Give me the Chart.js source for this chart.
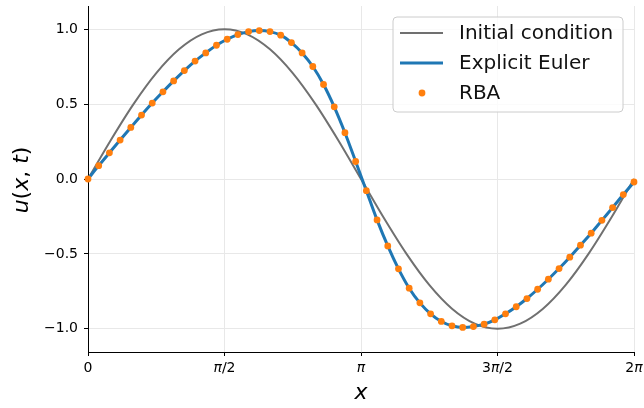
<!DOCTYPE html>
<html>
<head>
<meta charset="utf-8">
<script src="https://cdn.jsdelivr.net/npm/chart.js@4"></script>
<style>
  html, body { margin: 0; padding: 0; background: #fff; }
  #wrap { width: 644px; height: 408px; }
</style>
</head>
<body>
<div id="wrap"><canvas id="chart" width="644" height="408"></canvas></div>
<script>
/* data */
// initial condition, sampled every pi/12 from 0 to 2pi
const initU = [0, 0.259, 0.5, 0.707, 0.866, 0.966, 1.0, 0.966, 0.866, 0.707, 0.5, 0.259,
               0, -0.259, -0.5, -0.707, -0.866, -0.966, -1.0, -0.966, -0.866, -0.707, -0.5, -0.259, 0];
// explicit Euler solution and RBA prediction on the same 52-point grid (0..2pi)
const eulerU = [0, 0.089, 0.175, 0.260, 0.344, 0.427, 0.507, 0.582, 0.655, 0.724, 0.787, 0.842,
                0.893, 0.933, 0.964, 0.984, 0.991, 0.984, 0.960, 0.911, 0.842, 0.751, 0.631, 0.482,
                0.309, 0.117, -0.078, -0.273, -0.447, -0.600, -0.729, -0.827, -0.900, -0.951, -0.980,
                -0.991, -0.985, -0.969, -0.940, -0.900, -0.853, -0.798, -0.736, -0.669, -0.598, -0.522,
                -0.442, -0.362, -0.276, -0.191, -0.104, -0.020];
const rbaU = [0, 0.089, 0.175, 0.260, 0.344, 0.427, 0.507, 0.582, 0.655, 0.724, 0.787, 0.842,
              0.893, 0.933, 0.964, 0.984, 0.991, 0.984, 0.960, 0.911, 0.842, 0.751, 0.631, 0.482,
              0.309, 0.117, -0.078, -0.273, -0.447, -0.600, -0.729, -0.827, -0.900, -0.951, -0.980,
              -0.991, -0.985, -0.969, -0.940, -0.900, -0.853, -0.798, -0.736, -0.669, -0.598, -0.522,
              -0.442, -0.362, -0.276, -0.191, -0.104, -0.020];

const xTickVals = [0, Math.PI / 2, Math.PI, 3 * Math.PI / 2, 2 * Math.PI];
const xTickLabels = ['0', 'π/2', 'π', '3π/2', '2π'];
const yTickVals = [-1, -0.5, 0, 0.5, 1];

const initPts = initU.map((u, i) => ({x: i * Math.PI / 12, y: u}));
const eulerPts = eulerU.map((u, i) => ({x: i * 2 * Math.PI / (eulerU.length - 1), y: u}));
const rbaPts = rbaU.map((u, i) => ({x: i * 2 * Math.PI / (rbaU.length - 1), y: u}));

const FONT = '"DejaVu Sans", Verdana, sans-serif';

// draw a string where π is oblique (mathtext look)
function mathText(ctx, str, x, y, size, align) {
    const segs = [];
    for (const ch of str) segs.push([ch, ch === 'π' || /[a-z]/.test(ch)]);
    const fnt = it => (it ? 'italic ' : '') + size + 'px ' + FONT;
    let total = 0;
    segs.forEach(s => { ctx.font = fnt(s[1]); total += ctx.measureText(s[0]).width; });
    let px = align === 'center' ? x - total / 2 : x;
    ctx.textAlign = 'left';
    segs.forEach(s => { ctx.font = fnt(s[1]); ctx.fillText(s[0], px, y); px += ctx.measureText(s[0]).width; });
}

/* axis labels and x tick labels in mathtext style */
const axisLabels = {
    id: 'axisLabels',
    afterDraw(chart) {
        const ctx = chart.ctx, ca = chart.chartArea, xs = chart.scales.x;
        ctx.save();
        ctx.fillStyle = '#000';
        ctx.textBaseline = 'middle';
        xTickVals.forEach((v, i) => mathText(ctx, xTickLabels[i], xs.getPixelForValue(v), ca.bottom + 16, 14, 'center'));

        ctx.font = 'italic 22px ' + FONT;
        ctx.textAlign = 'center';
        ctx.fillText('x', (ca.left + ca.right) / 2, 393);

        const parts = [['u', 1], ['(', 0], ['x', 1], [', ', 0], ['t', 1], [')', 0]];
        const fnt = it => (it ? 'italic ' : '') + '22px ' + FONT;
        let total = 0;
        parts.forEach(p => { ctx.font = fnt(p[1]); total += ctx.measureText(p[0]).width; });
        ctx.translate(22, 180);
        ctx.rotate(-Math.PI / 2);
        ctx.textAlign = 'left';
        let px = -total / 2;
        parts.forEach(p => { ctx.font = fnt(p[1]); ctx.fillText(p[0], px, 0); px += ctx.measureText(p[0]).width; });
        ctx.restore();
    }
};

/* legend box, top right */
const legendBox = {
    id: 'legendBox',
    afterDraw(chart) {
        const ctx = chart.ctx, ca = chart.chartArea;
        const w = 230, h = 95;
        const x0 = ca.right - 11 - w, y0 = ca.top + 11;
        ctx.save();
        ctx.beginPath();
        ctx.roundRect(x0, y0, w, h, 4);
        ctx.fillStyle = 'rgba(255,255,255,0.8)';
        ctx.fill();
        ctx.strokeStyle = '#cccccc';
        ctx.lineWidth = 1;
        ctx.stroke();
        ctx.font = '20px ' + FONT;
        ctx.textBaseline = 'middle';
        chart.data.datasets.forEach((d, i) => {
            const y = y0 + 16 + i * 30;
            if (d.showLine === false) {
                ctx.beginPath();
                ctx.arc(x0 + 29, y, d.pointRadius, 0, Math.PI * 2);
                ctx.fillStyle = d.pointBackgroundColor;
                ctx.fill();
            } else {
                ctx.beginPath();
                ctx.moveTo(x0 + 7, y);
                ctx.lineTo(x0 + 50, y);
                ctx.strokeStyle = d.borderColor;
                ctx.lineWidth = d.borderWidth;
                ctx.stroke();
            }
            ctx.fillStyle = '#111';
            ctx.fillText(d.label, x0 + 66, y + 1);
        });
        ctx.restore();
    }
};

new Chart(document.getElementById('chart'), {
    type: 'line',
    data: {
        datasets: [
            {label: 'Initial condition', data: initPts, borderColor: '#707070', borderWidth: 2,
             pointRadius: 0, cubicInterpolationMode: 'monotone', order: 3, clip: false},
            {label: 'Explicit Euler', data: eulerPts, borderColor: '#1f77b4', borderWidth: 3,
             pointRadius: 0, cubicInterpolationMode: 'monotone', order: 2, clip: false},
            {label: 'RBA', data: rbaPts, showLine: false, pointRadius: 3.4,
             pointBackgroundColor: '#ff7f0e', pointBorderWidth: 0, borderColor: '#ff7f0e', order: 1, clip: false}
        ]
    },
    options: {
        responsive: false, animation: false,
        layout: {padding: {top: 6, right: 10, left: 0, bottom: 0}},
        plugins: {legend: {display: false}, tooltip: {enabled: false}},
        scales: {
            x: {
                type: 'linear', min: 0, max: 2 * Math.PI,
                afterBuildTicks: s => { s.ticks = xTickVals.map(v => ({value: v})); },
                afterFit: s => { s.height = 56; s.paddingLeft = 0; s.paddingRight = 0; },
                ticks: {display: false},
                grid: {color: '#e8e8e8', tickColor: '#000', tickLength: 4},
                border: {color: '#000', width: 1}
            },
            y: {
                min: -1.155, max: 1.155,
                afterBuildTicks: s => { s.ticks = yTickVals.map(v => ({value: v})); },
                afterFit: s => { s.width = 88; s.paddingTop = 0; s.paddingBottom = 0; },
                ticks: {callback: v => v.toFixed(1).replace('-', '−'), color: '#000', font: {family: FONT, size: 14}, padding: 6},
                grid: {color: '#e8e8e8', tickColor: '#000', tickLength: 4},
                border: {color: '#000', width: 1}
            }
        }
    },
    plugins: [axisLabels, legendBox]
});
</script>
</body>
</html>
